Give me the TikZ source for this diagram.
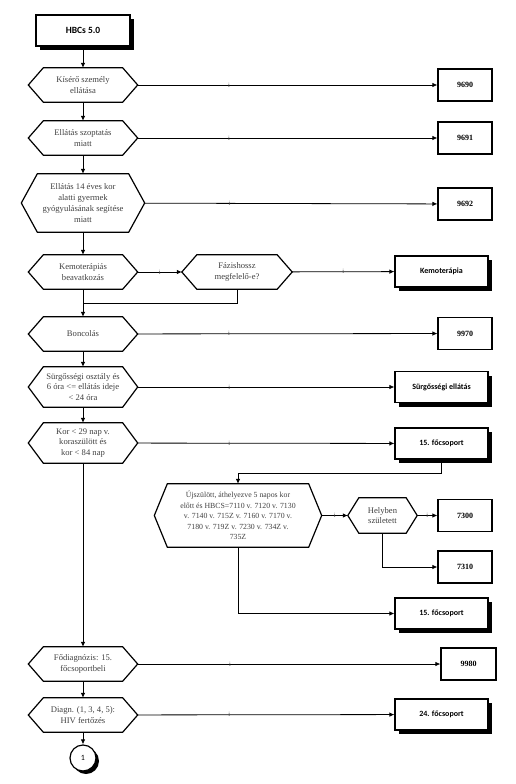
\documentclass[tikz,border=0pt]{standalone}
\usepackage{fontspec}
\setmainfont{Liberation Serif}
\newfontfamily\calibri{Carlito}
\usetikzlibrary{arrows.meta,calc,shadows}

\tikzset{
  hexbox/.style={rectangle, inner sep=0pt, align=center, font=\fontsize{8.6}{10.8}\selectfont, text=black!75},
  codebox/.style={rectangle, draw, line width=1.2pt, fill=white, minimum width=54pt, minimum height=32pt, inner sep=0pt, font=\bfseries\fontsize{8}{10}\selectfont},
  groupbox/.style={rectangle, draw, line width=1.2pt, fill=white, minimum width=93pt, minimum height=31pt, inner sep=0pt, font=\calibri\bfseries\fontsize{8}{10}\selectfont, drop shadow={shadow xshift=4pt, shadow yshift=-4pt, fill=black, opacity=1}},
  imark/.style={font=\fontsize{6.5}{6.5}\selectfont, inner sep=0pt, text=black!70},
  flow/.style={line width=0.8pt}
}

\begin{document}
\begin{tikzpicture}[x=1pt, y=-1pt, >={Latex[length=5pt,width=4.5pt]}]
    \useasboundingbox (0,0) rectangle (516,784);

    % start
    \node[groupbox, minimum width=94pt, font=\calibri\bfseries\fontsize{9.5}{11}\selectfont] (hbcs) at (83,30.5) {HBCs 5.0};

    % main column
    \node[hexbox, minimum width=109pt, minimum height=34pt] (kiser) at (83,85) {Kísérő személy\\ellátása};
    \node[hexbox, minimum width=109pt, minimum height=34pt] (szopt) at (83,138) {Ellátás szoptatás\\miatt};
    \node[hexbox, minimum width=123pt, minimum height=58pt] (gyerm) at (83,203) {Ellátás 14 éves kor\\alatti gyermek\\gyógyulásának segítése\\miatt};
    \node[hexbox, minimum width=109pt, minimum height=34pt] (kemo) at (83,272) {Kemoterápiás\\beavatkozás};
    \node[hexbox, minimum width=110pt, minimum height=34pt] (fazis) at (237,272) {Fázishossz\\megfelelő-e?};
    \node[hexbox, minimum width=109pt, minimum height=34pt] (boncol) at (83,334) {Boncolás};
    \node[hexbox, minimum width=109pt, minimum height=40pt] (surg) at (83,387) {Sürgősségi osztály és\\6 óra <= ellátás ideje\\< 24 óra};
    \node[hexbox, minimum width=109pt, minimum height=40pt] (kor) at (83,443) {Kor < 29 nap v.\\koraszülött és\\kor < 84 nap};
    \node[hexbox, minimum width=167pt, minimum height=63pt, font=\fontsize{7.8}{10.5}\selectfont] (ujsz) at (238,515.5) {Újszülött, áthelyezve 5 napos kor\\előtt és HBCS=7110 v. 7120 v. 7130\\v. 7140 v. 715Z v. 7160 v. 7170 v.\\7180 v. 719Z v. 7230 v. 734Z v.\\735Z};
    \node[hexbox, minimum width=69pt, minimum height=35pt] (helyb) at (382.5,515.5) {Helyben\\született};
    \node[hexbox, minimum width=109pt, minimum height=34pt] (fodiag) at (83,664) {Fődiagnózis: 15.\\főcsoportbeli};
    \node[hexbox, minimum width=109pt, minimum height=34pt] (hiv) at (83,715) {Diagn. (1, 3, 4, 5):\\HIV fertőzés};

    % hexagon outlines
    \foreach \n/\d in {kiser/15, szopt/15, gyerm/16, kemo/15, fazis/15, boncol/15, surg/15, kor/15, ujsz/13, helyb/11, fodiag/15, hiv/15}
      \draw[line width=1.2pt] ([xshift=\d pt]\n.north west) -- ([xshift=-\d pt]\n.north east) -- (\n.east)
        -- ([xshift=-\d pt]\n.south east) -- ([xshift=\d pt]\n.south west) -- (\n.west) -- cycle;

    % results
    \node[codebox] (n9690) at (465,85) {9690};
    \node[codebox] (n9691) at (465,138) {9691};
    \node[codebox] (n9692) at (465,204) {9692};
    \node[groupbox] (kemoter) at (441.5,271.5) {Kemoterápia};
    \node[codebox] (n9970) at (465,333.5) {9970};
    \node[groupbox] (surgell) at (441.5,387) {Sürgősségi ellátás};
    \node[groupbox] (fcsa) at (441.5,443.5) {15. főcsoport};
    \node[codebox] (n7300) at (465,515.5) {7300};
    \node[codebox] (n7310) at (465,567) {7310};
    \node[groupbox] (fcsb) at (441.5,613.5) {15. főcsoport};
    \node[codebox, minimum width=55pt] (n9980) at (468.5,664) {9980};
    \node[groupbox] (fcsc) at (441.5,714.5) {24. főcsoport};

    % connector
    \node[circle, draw, line width=1.2pt, fill=white, minimum size=26pt, inner sep=0pt, font=\calibri\fontsize{8}{10}\selectfont,
      drop shadow={shadow xshift=3pt, shadow yshift=-3pt, fill=black, opacity=1}] (conn) at (83,758) {1};

    % main flow
    \draw[flow,->] (hbcs) -- (kiser);
    \draw[flow,->] (kiser) -- (szopt);
    \draw[flow,->] (szopt) -- (gyerm);
    \draw[flow,->] (gyerm) -- (kemo);
    \draw[flow,->] (kemo) -- (boncol);
    \draw[flow,->] (boncol) -- (surg);
    \draw[flow,->] (surg) -- (kor);
    \draw[flow,->] (kor) -- (fodiag);
    \draw[flow,->] (fodiag) -- (hiv);
    \draw[flow,->] (hiv) -- (conn);

    % yes branches
    \draw[flow,->] (kiser) -- node[pos=.305, imark] {i} (n9690);
    \draw[flow,->] (szopt) -- node[pos=.305, imark] {i} (n9691);
    \draw[flow,->] (gyerm) -- node[pos=.29, imark] {i} (n9692);
    \draw[flow,->] (kemo) -- node[imark] {i} (fazis);
    \draw[flow,->] (fazis) -- node[imark] {i} (kemoter);
    \coordinate (join) at (83,303);
    \draw[flow] (fazis.south) |- (join);
    \draw[flow,->] (boncol) -- node[pos=.305, imark] {i} (n9970);
    \draw[flow,->] (surg) -- node[pos=.357, imark] {i} (surgell);
    \draw[flow,->] (kor) -- node[pos=.357, imark] {i} (fcsa);
    \draw[flow,->] (fcsa.south) -- ++(0,14) -| (ujsz.north);
    \draw[flow,->] (ujsz) -- node[imark] {i} (helyb);
    \draw[flow,->] (helyb) -- node[imark] {i} (n7300);
    \draw[flow,->] (helyb.south) |- (n7310);
    \draw[flow,->] (ujsz.south) |- (fcsb);
    \draw[flow,->] (fodiag) -- node[pos=.305, imark] {i} (n9980);
    \draw[flow,->] (hiv) -- node[pos=.357, imark] {i} (fcsc);
  \end{tikzpicture}
\end{document}
